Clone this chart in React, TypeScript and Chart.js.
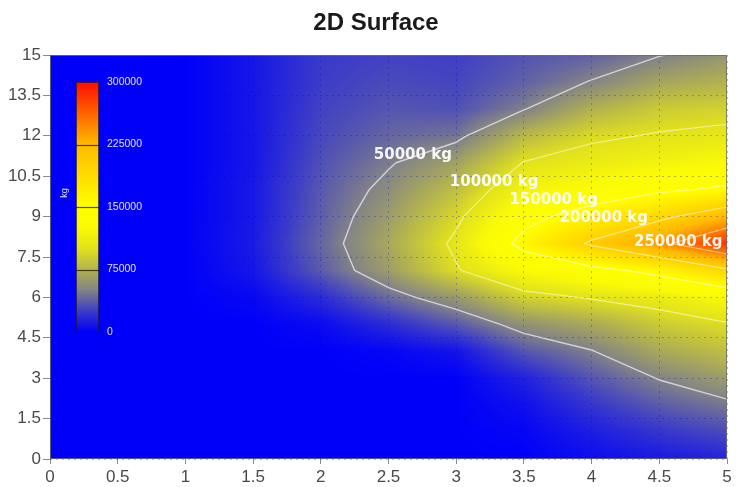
import React, { useEffect, useRef } from 'react';
import { Chart, registerables } from 'chart.js';

Chart.register(...registerables);

// ---- grid of the surface (mass in kg) ----
const xValues = [0, 0.5, 1, 1.5, 2, 2.5, 3, 3.5, 4, 4.5, 5];
const yValues = [0, 1, 2, 3, 4, 5, 6, 7, 8, 9, 10, 11, 12, 13, 14, 15];

// each array: values along y (0..15) at one x
const massAtX0_0 = [0, 0, 0, 0, 0, 0, 0, 0, 0, 0, 0, 0, 0, 0, 0, 0];
const massAtX0_5 = [0, 0, 0, 0, 0, 0, 0, 0, 0, 0, 0, 0, 0, 0, 0, 0];
const massAtX1_0 = [0, 0, 0, 0, 0, 0, 0, 0, 0, 0, 0, 0, 0, 0, 0, 0];
const massAtX1_5 = [0, 0, 0, 0, 0, 0, 3000, 9000, 11000, 10000, 10000, 9000, 9000, 9000, 9000, 9000];
const massAtX2_0 = [0, 0, 0, 0, 0, 4000, 18000, 36000, 40000, 37000, 35000, 32000, 29000, 27000, 25000, 24000];
const massAtX2_5 = [0, 0, 0, 0, 2000, 18000, 42000, 64000, 70000, 64000, 56000, 48000, 40000, 34000, 30000, 27000];
const massAtX3_0 = [0, 0, 0, 0, 8000, 35000, 62000, 98000, 105000, 95000, 82000, 66000, 45000, 32000, 28000, 26000];
const massAtX3_5 = [0, 2000, 6000, 14000, 34000, 58000, 92000, 125000, 160000, 140000, 118000, 101000, 78000, 49000, 38000, 33000];
const massAtX4_0 = [5000, 12000, 22000, 34000, 49000, 70000, 102000, 140000, 205000, 165000, 130000, 110000, 96000, 74000, 51000, 38000];
const massAtX4_5 = [10000, 22000, 36000, 51000, 70000, 88000, 110000, 160000, 242000, 192000, 145000, 118000, 102000, 88000, 68000, 49000];
const massAtX5_0 = [15000, 30000, 46000, 64000, 82000, 98000, 125000, 195000, 285000, 225000, 155000, 125000, 106000, 92000, 75000, 60000];

const surfaceColumns = [
  massAtX0_0, massAtX0_5, massAtX1_0, massAtX1_5, massAtX2_0, massAtX2_5,
  massAtX3_0, massAtX3_5, massAtX4_0, massAtX4_5, massAtX5_0,
];

// ---- contours ----
const contourLevels = [50000, 100000, 150000, 200000, 250000];
const contourLabelX = [2.68, 3.28, 3.72, 4.09, 4.64];
const contourLabelY = [11.28, 10.27, 9.6, 8.93, 8.04];

// ---- colour scale ----
const colorStops = [0, 25000, 50000, 75000, 100000, 125000, 150000, 225000, 262500, 300000];
const colorStopRGB = [
  [0, 0, 250], [60, 60, 200], [130, 130, 135], [178, 178, 80], [225, 225, 30], [250, 250, 6],
  [255, 255, 0], [255, 186, 0], [255, 100, 0], [255, 12, 0],
];
const colorbarTicks = [0, 75000, 150000, 225000, 300000];
const colorbarUnit = 'kg';
const chartTitle = '2D Surface';

const TICK_FONT = "'Liberation Sans', Arial, sans-serif";

function locate(arr: number[], v: number): [number, number] {
  let i = 0;
  while (i < arr.length - 2 && v > arr[i + 1]) i++;
  let t = (v - arr[i]) / (arr[i + 1] - arr[i]);
  if (t < 0) t = 0;
  if (t > 1) t = 1;
  return [i, t];
}

function sample(x: number, y: number): number {
  const [i, tx] = locate(xValues, x);
  const [j, ty] = locate(yValues, y);
  const a = surfaceColumns[i][j];
  const b = surfaceColumns[i + 1][j];
  const c = surfaceColumns[i + 1][j + 1];
  const d = surfaceColumns[i][j + 1];
  return (a * (1 - tx) + b * tx) * (1 - ty) + (d * (1 - tx) + c * tx) * ty;
}

function colorFor(z: number): number[] {
  if (z <= colorStops[0]) return colorStopRGB[0];
  const n = colorStops.length;
  if (z >= colorStops[n - 1]) return colorStopRGB[n - 1];
  let k = 0;
  while (k < n - 2 && z > colorStops[k + 1]) k++;
  const t = (z - colorStops[k]) / (colorStops[k + 1] - colorStops[k]);
  const c0 = colorStopRGB[k];
  const c1 = colorStopRGB[k + 1];
  return [c0[0] + (c1[0] - c0[0]) * t, c0[1] + (c1[1] - c0[1]) * t, c0[2] + (c1[2] - c0[2]) * t];
}

const fmt = (v: any) => String(Number(Number(v).toFixed(3)));

const surfacePlugin = {
  id: 'surface',
  beforeDraw(chart: any) {
    const { ctx, chartArea: a, scales } = chart;
    const xs = scales.x;
    const ys = scales.y;
    const left = Math.round(a.left);
    const top = Math.round(a.top);
    const w = Math.round(a.right) - left;
    const h = Math.round(a.bottom) - top;
    if (w <= 0 || h <= 0) return;
    const off = document.createElement('canvas');
    off.width = w;
    off.height = h;
    const octx = off.getContext('2d')!;
    const img = octx.createImageData(w, h);
    const xv: number[] = [];
    for (let i = 0; i < w; i++) xv.push(xs.getValueForPixel(left + i + 0.5));
    for (let j = 0; j < h; j++) {
      const yv = ys.getValueForPixel(top + j + 0.5);
      for (let i = 0; i < w; i++) {
        const c = colorFor(sample(xv[i], yv));
        const p = (j * w + i) * 4;
        img.data[p] = c[0];
        img.data[p + 1] = c[1];
        img.data[p + 2] = c[2];
        img.data[p + 3] = 255;
      }
    }
    octx.putImageData(img, 0, 0);
    ctx.drawImage(off, left, top);
  },
};

const overlayPlugin = {
  id: 'overlay',
  afterDatasetsDraw(chart: any) {
    const { ctx, chartArea: a, scales } = chart;
    const xs = scales.x;
    const ys = scales.y;
    const px = (v: number) => xs.getPixelForValue(v);
    const py = (v: number) => ys.getPixelForValue(v);

    // contours (marching squares on the data grid)
    ctx.save();
    ctx.beginPath();
    ctx.rect(a.left, a.top, a.right - a.left, a.bottom - a.top);
    ctx.clip();
    ctx.lineCap = 'round';
    contourLevels.forEach((L, li) => {
      ctx.strokeStyle = li === 0 ? 'rgba(225,225,235,0.85)' : 'rgba(255,255,235,0.55)';
      ctx.lineWidth = li === 0 ? 1.4 : 1.2;
      ctx.beginPath();
      for (let i = 0; i < xValues.length - 1; i++) {
        for (let j = 0; j < yValues.length - 1; j++) {
          const x0 = xValues[i], x1 = xValues[i + 1], y0 = yValues[j], y1 = yValues[j + 1];
          const za = surfaceColumns[i][j];
          const zb = surfaceColumns[i + 1][j];
          const zc = surfaceColumns[i + 1][j + 1];
          const zd = surfaceColumns[i][j + 1];
          const pts: (number[] | null)[] = [null, null, null, null];
          const cross = (p: number, q: number) => (p >= L) !== (q >= L);
          if (cross(za, zb)) { const t = (L - za) / (zb - za); pts[0] = [x0 + (x1 - x0) * t, y0]; }
          if (cross(zb, zc)) { const t = (L - zb) / (zc - zb); pts[1] = [x1, y0 + (y1 - y0) * t]; }
          if (cross(zd, zc)) { const t = (L - zd) / (zc - zd); pts[2] = [x0 + (x1 - x0) * t, y1]; }
          if (cross(za, zd)) { const t = (L - za) / (zd - za); pts[3] = [x0, y0 + (y1 - y0) * t]; }
          const found = pts.filter((p) => p !== null) as number[][];
          const segs: number[][][] = [];
          if (found.length === 2) segs.push([found[0], found[1]]);
          else if (found.length === 4) {
            const center = (za + zb + zc + zd) / 4;
            if ((center >= L) === (za >= L)) {
              segs.push([pts[0]!, pts[1]!], [pts[2]!, pts[3]!]);
            } else {
              segs.push([pts[0]!, pts[3]!], [pts[1]!, pts[2]!]);
            }
          }
          for (const s of segs) {
            ctx.moveTo(px(s[0][0]), py(s[0][1]));
            ctx.lineTo(px(s[1][0]), py(s[1][1]));
          }
        }
      }
      ctx.stroke();
    });
    ctx.restore();

    // contour labels
    ctx.save();
    ctx.font = "bold 15px 'DejaVu Sans', sans-serif";
    ctx.fillStyle = 'rgba(255,255,255,0.93)';
    ctx.textAlign = 'center';
    ctx.textBaseline = 'middle';
    contourLevels.forEach((lv, k) => {
      ctx.fillText(`${lv} kg`, px(contourLabelX[k]), py(contourLabelY[k]));
    });
    ctx.restore();

    // frame
    ctx.save();
    ctx.strokeStyle = 'rgba(110,110,110,0.8)';
    ctx.lineWidth = 1;
    ctx.strokeRect(Math.round(a.left) + 0.5, Math.round(a.top) + 0.5, Math.round(a.right - a.left) - 1, Math.round(a.bottom - a.top) - 1);
    ctx.restore();

    // colour bar
    const bx = Math.round(a.left) + 26;
    const by = Math.round(a.top) + 27;
    const bw = 23;
    const bh = 250;
    const vmin = colorbarTicks[0];
    const vmax = colorbarTicks[colorbarTicks.length - 1];
    ctx.save();
    for (let r = 0; r < bh; r++) {
      const v = vmax - ((r + 0.5) / bh) * (vmax - vmin);
      const c = colorFor(v);
      ctx.fillStyle = `rgb(${c[0] | 0},${c[1] | 0},${c[2] | 0})`;
      ctx.fillRect(bx, by + r, bw, 1);
    }
    ctx.strokeStyle = 'rgba(20,20,70,0.75)';
    ctx.lineWidth = 1;
    ctx.strokeRect(bx + 0.5, by + 0.5, bw - 1, bh - 1);
    ctx.font = "10.5px 'Liberation Sans', sans-serif";
    ctx.fillStyle = 'rgba(235,235,255,0.95)';
    ctx.textAlign = 'left';
    ctx.textBaseline = 'middle';
    for (const t of colorbarTicks) {
      const yy = by + bh - ((t - vmin) / (vmax - vmin)) * bh;
      if (t !== vmin && t !== vmax) {
        ctx.strokeStyle = 'rgba(40,30,0,0.8)';
        ctx.lineWidth = 1.2;
        ctx.beginPath();
        ctx.moveTo(bx, Math.round(yy) + 0.5);
        ctx.lineTo(bx + bw, Math.round(yy) + 0.5);
        ctx.stroke();
      }
      ctx.fillText(String(t), bx + bw + 8, yy);
    }
    ctx.translate(bx - 11, by + 111);
    ctx.rotate(-Math.PI / 2);
    ctx.textAlign = 'center';
    ctx.font = "9px 'Liberation Sans', sans-serif";
    ctx.fillText(colorbarUnit, 0, 0);
    ctx.restore();
  },
  afterDraw(chart: any) {
    const { ctx } = chart;
    ctx.save();
    ctx.font = "bold 24px 'Liberation Sans', Arial, sans-serif";
    ctx.fillStyle = '#1a1a1a';
    ctx.textAlign = 'center';
    ctx.textBaseline = 'middle';
    ctx.fillText(chartTitle, (chart.width + 16) / 2, 23);
    ctx.restore();
  },
};

export default function App() {
  const ref = useRef<HTMLCanvasElement | null>(null);
  useEffect(() => {
    if (!ref.current) return;
    const chart = new Chart(ref.current, {
      type: 'scatter',
      data: { datasets: [{ label: 'surface', data: [], pointRadius: 0 }] },
      options: {
        animation: false,
        responsive: false,
        events: [],
        layout: { padding: { left: 0, right: 9, top: 55, bottom: 0 } },
        plugins: {
          legend: { display: false },
          tooltip: { enabled: false },
          title: { display: false },
        },
        scales: {
          x: {
            type: 'linear',
            min: 0,
            max: 5,
            afterFit: (s: any) => { s.height = 28; },
            ticks: {
              stepSize: 0.5,
              autoSkip: false,
              maxRotation: 0,
              padding: 3,
              color: '#4a4a4a',
              font: { family: TICK_FONT, size: 17 },
              callback: fmt,
            },
            grid: {
              color: 'rgba(0,0,200,0.28)',
              lineWidth: 1,
              tickColor: '#8a8a8a',
              tickLength: 5,
            },
            border: { display: false, dash: [2, 4] },
          },
          y: {
            type: 'linear',
            min: 0,
            max: 15,
            afterFit: (s: any) => { s.width = 50; },
            ticks: {
              stepSize: 1.5,
              autoSkip: false,
              padding: 2,
              color: '#4a4a4a',
              font: { family: TICK_FONT, size: 17 },
              callback: fmt,
            },
            grid: {
              color: 'rgba(0,0,200,0.28)',
              lineWidth: 1,
              tickColor: '#8a8a8a',
              tickLength: 7,
            },
            border: { display: false, dash: [2, 4] },
          },
        },
      } as any,
      plugins: [surfacePlugin, overlayPlugin],
    });
    return () => chart.destroy();
  }, []);
  return (
    <canvas
      ref={ref}
      width={736}
      height={487}
      style={{ position: 'fixed', left: 0, top: 0, width: 736, height: 487 }}
    />
  );
}
